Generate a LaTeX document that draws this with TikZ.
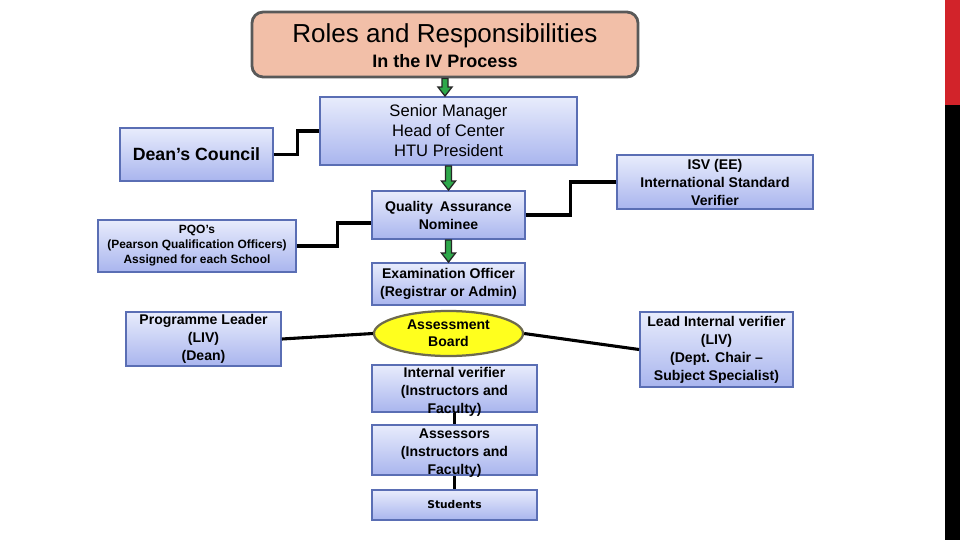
\documentclass[tikz,border=0pt]{standalone}
\usepackage{fontspec}
\setmainfont{Liberation Sans}
\newfontfamily\studentfont{DejaVu Sans}
\usetikzlibrary{shapes.geometric, calc, positioning}

\definecolor{boxtop}{HTML}{E8ECFC}
\definecolor{boxbottom}{HTML}{A9B5EE}
\definecolor{boxline}{HTML}{5A6EB4}
\definecolor{titlefill}{HTML}{F2BFA8}
\definecolor{titleline}{HTML}{595959}
\definecolor{boardfill}{HTML}{FFFF1E}
\definecolor{boardline}{HTML}{6E6A4E}
\definecolor{arrowgreen}{HTML}{2EA84A}
\definecolor{barred}{HTML}{D2232A}

\tikzset{
  rolebox/.style={draw=boxline, line width=1.3pt, top color=boxtop, bottom color=boxbottom,
    inner sep=0pt, align=center, font=\fontsize{10}{12.8}\selectfont\bfseries},
  link/.style={line width=2.2pt, black},
  flowarrow/.style={draw=black!85, line width=0.9pt, fill=arrowgreen, line join=miter}
}

% fat green arrow from one node down to the next
\newcommand{\greenstep}[2]{%
  \draw[flowarrow] ($(#1)+(-3,0)$) -- ($(#1 |- #2)+(-3,-9)$) -- ($(#1 |- #2)+(-7,-9)$)
    -- (#1 |- #2) -- ($(#1 |- #2)+(7,-9)$) -- ($(#1 |- #2)+(3,-9)$) -- ($(#1)+(3,0)$) -- cycle;}

\begin{document}
\begin{tikzpicture}[x=0.025cm, y=-0.025cm]
  \useasboundingbox[fill=white] (0,0) rectangle (960,540);

  % side bar
  \fill[barred] (945,0) rectangle (960,105);
  \fill[black] (945,105) rectangle (960,540);

  \node[draw=titleline, line width=2pt, fill=titlefill, rounded corners=8pt,
    minimum width=9.65cm, minimum height=1.625cm, inner sep=0pt] (title) at (445,44.5) {};
  \node[font=\fontsize{18.5}{21}\selectfont] (titletext) at (445,36) {Roles and Responsibilities};
  \node[font=\fontsize{12.8}{15}\selectfont\bfseries] (subtitle) at (445,61) {In the IV Process};

  \node[rolebox, minimum width=6.425cm, minimum height=1.7cm,
    font=\fontsize{11.8}{14.2}\selectfont] (senior) at (448.5,131)
    {Senior Manager\\Head of Center\\HTU President};
  \node[rolebox, minimum width=3.825cm, minimum height=1.325cm,
    font=\fontsize{12.6}{15}\selectfont\bfseries] (dean) at (196.5,154.5) {Dean’s Council};
  \node[rolebox, minimum width=3.825cm, minimum height=1.2cm] (qa) at (448.5,215)
    {Quality\enspace Assurance\\Nominee};
  \node[rolebox, minimum width=4.95cm, minimum height=1.3cm,
    font=\fontsize{8.5}{10.7}\selectfont\bfseries] (pqo) at (197,246)
    {PQO’s\\(Pearson Qualification Officers)\\Assigned for each School};
  \node[rolebox, minimum width=4.9cm, minimum height=1.35cm] (isv) at (715,182)
    {ISV (EE)\\International Standard\\Verifier};
  \node[rolebox, minimum width=3.825cm, minimum height=1.05cm] (exam) at (448.5,284)
    {Examination Officer\\(Registrar or Admin)};
  \node[ellipse, draw=boardline, line width=1.6pt, fill=boardfill, minimum width=3.725cm,
    minimum height=1.125cm, inner sep=0pt, align=center,
    font=\fontsize{10}{12.2}\selectfont\bfseries] (board) at (448.5,333.5) {Assessment\\Board};
  \node[rolebox, minimum width=3.875cm, minimum height=1.35cm] (progl) at (203.5,339)
    {Programme Leader\\(LIV)\\(Dean)};
  \node[rolebox, minimum width=3.825cm, minimum height=1.875cm] (leadiv) at (716.5,349.5)
    {Lead Internal verifier\\(LIV)\\(Dept. Chair –\\Subject Specialist)};
  \node[rolebox, minimum width=4.125cm, minimum height=1.175cm,
    label={[align=center, yshift=-0.075cm, font=\fontsize{10}{12.8}\selectfont\bfseries]center:{Internal verifier\\(Instructors and\\Faculty)}}]
    (intv) at (454.5,388.5) {};
  \node[rolebox, minimum width=4.125cm, minimum height=1.25cm,
    label={[align=center, yshift=-0.075cm, font=\fontsize{10}{12.8}\selectfont\bfseries]center:{Assessors\\(Instructors and\\Faculty)}}]
    (assessors) at (454.5,450) {};
  \node[rolebox, minimum width=4.125cm, minimum height=0.75cm,
    font=\fontsize{7.6}{10}\studentfont\bfseries] (students) at (454.5,505) {Students};

  % green flow arrows
  \greenstep{title.south}{senior.north}
  \greenstep{senior.south}{qa.north}
  \greenstep{qa.south}{exam.north}

  % black links
  \draw[link] (dean.east) -- ++(24,0) |- (senior.west);
  \draw[link] (pqo.east) -- ++(41,0) |- ($(qa.west)+(0,8)$);
  \draw[link] (qa.east) -- ++(45,0) |- (isv.west);
  \draw[link] (progl.east) -- (board.west);
  \draw[link] (board.east) -- (leadiv.west);
  \draw[link] (intv.south) -- (assessors.north);
  \draw[link] (assessors.south) -- (students.north);
\end{tikzpicture}
\end{document}
